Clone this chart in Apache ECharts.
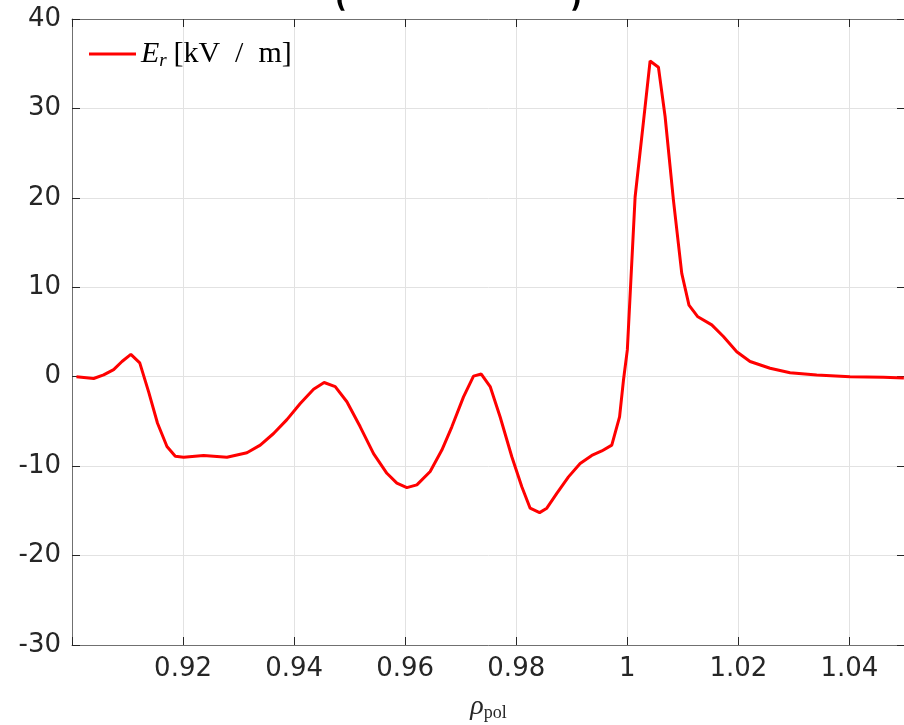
<!DOCTYPE html>
<html><head><meta charset="utf-8">
<script src="https://cdn.jsdelivr.net/npm/echarts@6/dist/echarts.min.js"></script>
<style>html,body{margin:0;padding:0;background:#fff;overflow:hidden}#c{width:904px;height:725px}</style>
</head><body><div id="c"></div>
<script>
const rho = [0.9008,0.9039,0.9057,0.9075,0.9090,0.9106,0.9122,0.9138,0.9154,0.9171,0.9186,0.9201,0.9237,0.9279,0.9315,0.9339,0.9363,0.9387,0.9411,0.9435,0.9454,0.9474,0.9495,0.9519,0.9543,0.9567,0.9585,0.9603,0.9621,0.9645,0.9666,0.9684,0.9705,0.9723,0.9737,0.9753,0.9771,0.9792,0.9810,0.9825,0.9842,0.9855,0.9873,0.9894,0.9915,0.9936,0.9954,0.9972,0.9986,0.9993,1.0000,1.0014,1.0029,1.0041,1.0056,1.0068,1.0083,1.0098,1.0111,1.0127,1.0152,1.0173,1.0197,1.0221,1.0257,1.0293,1.0341,1.0401,1.0461,1.0498];
const Er = [0.0,-0.2,0.2,0.8,1.7,2.5,1.55,-1.7,-5.2,-7.8,-8.9,-9.0,-8.8,-9.0,-8.5,-7.65,-6.35,-4.8,-3.0,-1.4,-0.65,-1.1,-2.8,-5.6,-8.6,-10.8,-11.9,-12.4,-12.1,-10.6,-8.2,-5.6,-2.25,0.07,0.3,-1.1,-4.5,-8.95,-12.3,-14.7,-15.2,-14.7,-13.05,-11.2,-9.7,-8.8,-8.3,-7.65,-4.5,-0.4,3.0,20.1,28.5,35.3,34.6,29.1,19.75,11.55,8.0,6.7,5.8,4.5,2.8,1.7,0.95,0.45,0.2,0.0,-0.05,-0.15];
const xMin = 0.9, xMax = 1.05, xStep = 0.02;
const yMin = -30, yMax = 40, yStep = 10;
const seriesName = 'Er';

const chart = echarts.init(document.getElementById('c'), null, {renderer: 'canvas', width: 904, height: 725});
const axisCol = '#707070';
const gridCol = '#e2e2e2';
const lblFont = {fontFamily: 'DejaVu Sans', fontSize: 26, color: '#262626'};
const common = {
  axisLine: {show: true, onZero: false, lineStyle: {color: axisCol, width: 1}},
  axisTick: {show: true, inside: true, length: 8, lineStyle: {color: '#262626'}},
  splitLine: {show: false}
};
chart.setOption({
  animation: false,
  backgroundColor: '#fff',
  graphic: [
    {type: 'text', left: 335, top: -13, style: {text: '(', font: 'bold 26px "DejaVu Sans"', fill: '#000'}},
    {type: 'text', left: 570, top: -13, style: {text: ')', font: 'bold 26px "DejaVu Sans"', fill: '#000'}}
  ],
  grid: {left: 72, top: 19, width: 833, height: 626, containLabel: false, outerBoundsMode: 'none'},
  legend: {
    left: 84, top: 34, itemWidth: 47, itemHeight: 3, icon: 'rect', itemGap: 4,
    data: [seriesName],
    formatter: () => '{e|E}{s|r}  {t|[kV  /  m]}',
    textStyle: {
      rich: {
        e: {fontFamily: 'Liberation Serif', fontStyle: 'italic', fontSize: 30, color: '#000'},
        s: {fontFamily: 'Liberation Serif', fontStyle: 'italic', fontSize: 19, color: '#000', padding: [14, 0, 0, 0]},
        t: {fontFamily: 'Liberation Serif', fontSize: 30, color: '#000'}
      }
    }
  },
  xAxis: [
    Object.assign({}, common, {
      type: 'value', min: xMin, max: xMax, interval: xStep, position: 'bottom',
      splitLine: {show: true, lineStyle: {color: gridCol, width: 1}},
      axisLabel: Object.assign({}, lblFont, {margin: 11, showMaxLabel: false,
        formatter: v => (Math.abs(v - xMin) < 1e-9 ? '' : String(Number(v.toFixed(2))))}),
      name: '{r|ρ}{p|pol}', nameLocation: 'middle', nameGap: 47,
      nameTextStyle: {rich: {
        r: {fontFamily: 'Liberation Serif', fontStyle: 'italic', fontSize: 28, color: '#262626'},
        p: {fontFamily: 'Liberation Serif', fontSize: 18, color: '#262626', padding: [12, 0, 0, 0]}
      }}
    }),
    Object.assign({}, common, {
      type: 'value', min: xMin, max: xMax, interval: xStep, position: 'top',
      axisLabel: {show: false}
    })
  ],
  yAxis: [
    Object.assign({}, common, {
      type: 'value', min: yMin, max: yMax, interval: yStep, position: 'left',
      splitLine: {show: true, lineStyle: {color: gridCol, width: 1}},
      axisLabel: Object.assign({}, lblFont, {margin: 11})
    }),
    Object.assign({}, common, {
      type: 'value', min: yMin, max: yMax, interval: yStep, position: 'right',
      axisLabel: {show: false}
    })
  ],
  series: [{
    name: seriesName, type: 'line', xAxisIndex: 0, yAxisIndex: 0,
    data: rho.map((x, i) => [x, Er[i]]),
    showSymbol: false, symbol: 'none', smooth: false,
    lineStyle: {color: '#ff0000', width: 3},
    itemStyle: {color: '#ff0000'}
  }]
});
</script>
</body></html>
